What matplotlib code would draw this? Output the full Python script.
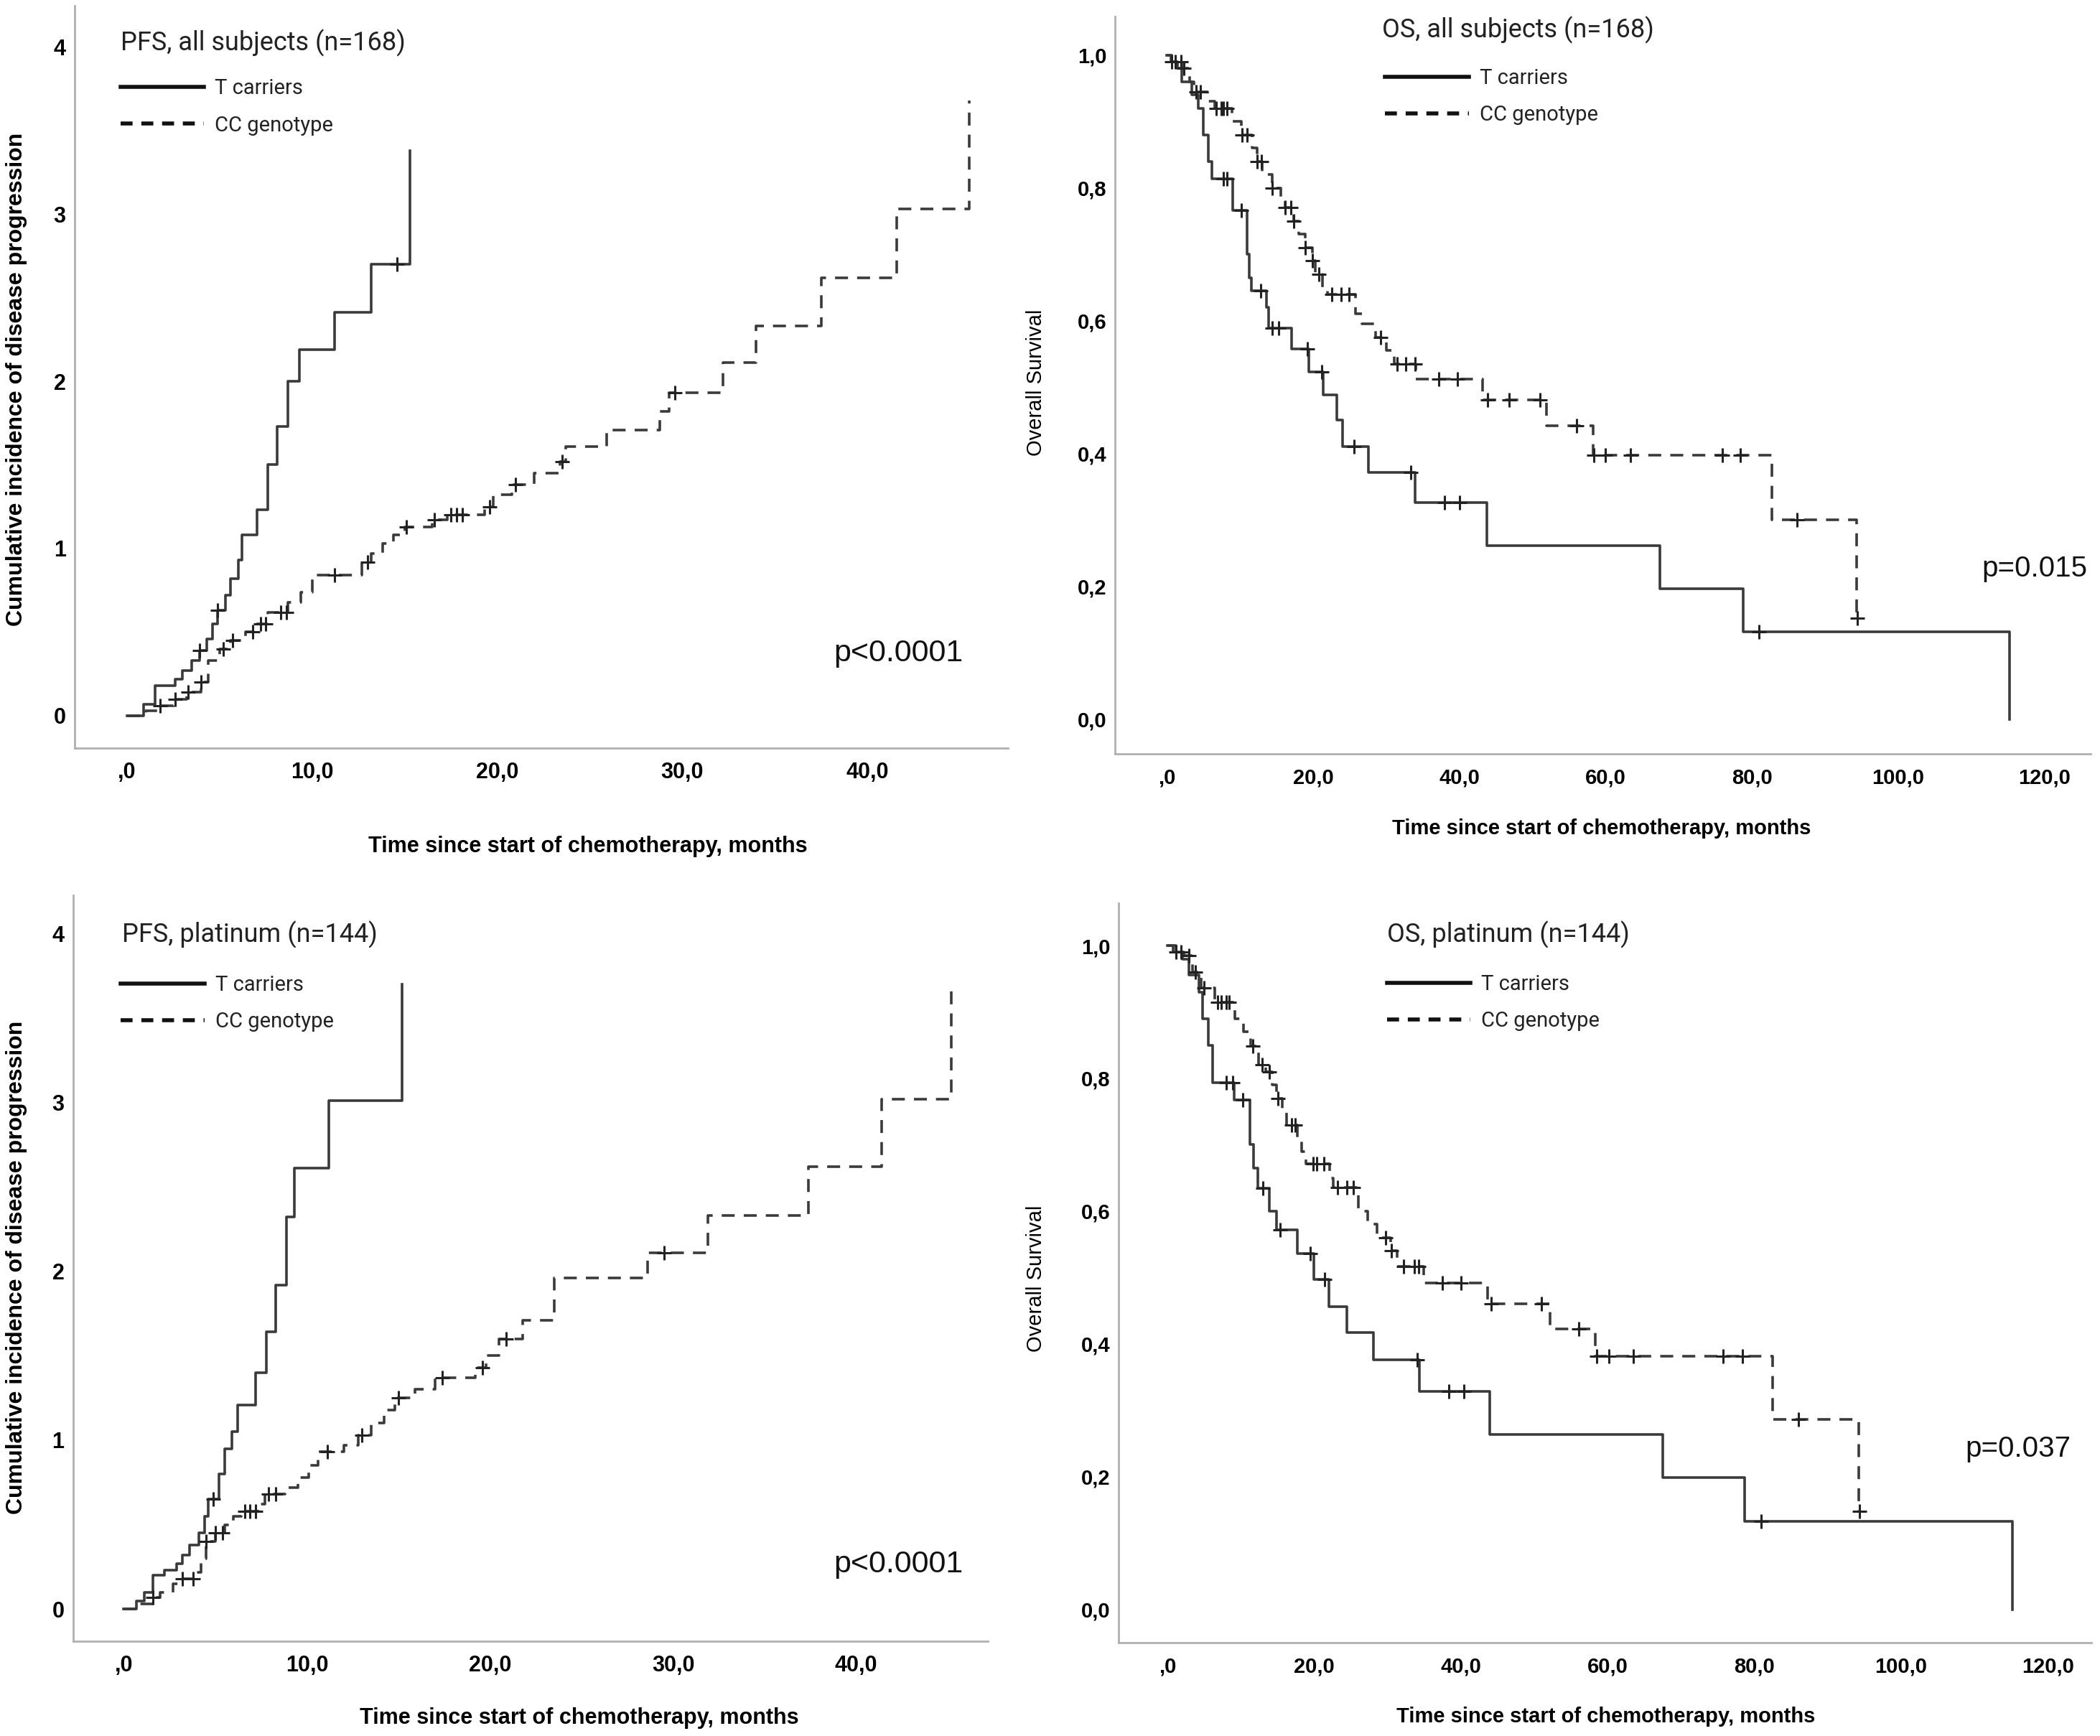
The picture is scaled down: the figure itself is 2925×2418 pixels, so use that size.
import numpy as np
import matplotlib
matplotlib.use("Agg")
import matplotlib.pyplot as plt
from matplotlib.lines import Line2D

# ---------------- data ----------------
# PFS, all subjects (n=168): cumulative incidence of disease progression
pfs_all_t_time = [0, 0.9, 1.5, 2.6, 3.0, 3.5, 3.9, 4.3, 4.6, 4.9, 5.3, 5.6, 6.0, 6.2, 7.0, 7.6, 8.1, 8.7, 9.3, 11.2, 13.2, 15.3]
pfs_all_t_val = [0, 0.07, 0.18, 0.22, 0.27, 0.33, 0.39, 0.46, 0.55, 0.63, 0.72, 0.82, 0.93, 1.08, 1.23, 1.50, 1.73, 2.00, 2.19, 2.41, 2.70, 3.38]
pfs_all_t_cens = [3.9, 4.9, 14.6]
pfs_all_c_time = [0, 1.0, 1.8, 2.5, 3.2, 4.0, 4.4, 5.0, 5.6, 6.4, 7.0, 7.6, 8.7, 9.4, 10.0, 12.7, 13.2, 13.8, 14.4, 15.0,
                  16.5, 17.3, 19.3, 19.8, 20.8, 22.0, 23.4, 23.7, 25.9, 28.8, 29.3, 32.2, 34.0, 37.5, 41.6, 45.5]
pfs_all_c_val = [0, 0.03, 0.06, 0.10, 0.14, 0.20, 0.33, 0.40, 0.45, 0.50, 0.55, 0.62, 0.68, 0.74, 0.84, 0.92, 0.97, 1.03, 1.08, 1.13,
                 1.17, 1.20, 1.25, 1.32, 1.38, 1.45, 1.52, 1.61, 1.71, 1.82, 1.93, 2.11, 2.33, 2.62, 3.03, 3.68]
pfs_all_c_cens = [1.8, 2.6, 3.3, 4.0, 5.2, 5.7, 6.8, 7.2, 7.5, 8.3, 8.6, 11.2, 13.0, 15.1, 16.6, 17.5, 17.8, 18.1, 19.6, 21.0, 23.5, 29.6]

# OS, all subjects (n=168): overall survival
os_all_t_time = [0, 0.7, 1.5, 2.0, 3.4, 4.3, 5.0, 5.7, 6.2, 9.0, 11.0, 11.3, 11.6, 13.6, 13.9, 17.1, 19.4, 21.4, 23.2, 24.0, 27.6, 33.9, 43.8, 67.4, 78.8, 115.2]
os_all_t_val = [1.0, 0.99, 0.98, 0.96, 0.94, 0.92, 0.88, 0.84, 0.814, 0.766, 0.70, 0.665, 0.645, 0.62, 0.589, 0.557, 0.523, 0.488, 0.45, 0.41, 0.372, 0.326, 0.261, 0.196, 0.132, 0.0]
os_all_t_cens = [7.7, 8.2, 10.2, 12.8, 14.4, 15.3, 19.2, 21.2, 25.6, 33.4, 38.0, 40.0, 81.0]
os_all_c_time = [0, 0.6, 2.0, 3.1, 3.7, 5.6, 6.6, 8.9, 10.2, 11.7, 12.3, 13.0, 14.4, 15.6, 16.2, 17.4, 18.0, 18.9, 19.9, 20.3,
                 21.3, 22.0, 25.8, 26.7, 28.5, 30.0, 31.1, 34.0, 43.2, 51.9, 58.3, 82.7, 94.3]
os_all_c_val = [1.0, 0.99, 0.98, 0.96, 0.944, 0.93, 0.92, 0.90, 0.88, 0.86, 0.84, 0.82, 0.80, 0.78, 0.77, 0.75, 0.73, 0.71, 0.69, 0.67,
                0.65, 0.64, 0.61, 0.595, 0.575, 0.555, 0.535, 0.512, 0.481, 0.442, 0.398, 0.30, 0.152]
os_all_c_cens = [0.7, 1.2, 1.9, 2.3, 4.0, 4.6, 6.8, 7.4, 7.7, 8.2, 10.3, 11.0, 12.3, 12.9, 14.4, 16.2, 17.0, 17.4, 18.9, 19.9,
                 20.8, 22.6, 23.8, 24.9, 29.2, 31.5, 32.7, 33.9, 37.2, 39.7, 43.9, 46.8, 51.0, 56.0, 58.4, 60.0, 63.4, 76.0,
                 78.4, 86.2, 94.4]

# PFS, platinum (n=144)
pfs_pt_t_time = [0, 0.7, 1.1, 1.6, 2.2, 2.9, 3.2, 3.6, 4.1, 4.4, 4.6, 5.2, 5.5, 5.9, 6.2, 7.2, 7.8, 8.3, 8.9, 9.3, 11.2, 15.2]
pfs_pt_t_val = [0, 0.05, 0.10, 0.20, 0.23, 0.27, 0.32, 0.38, 0.45, 0.55, 0.65, 0.80, 0.95, 1.05, 1.21, 1.40, 1.64, 1.92, 2.32, 2.61, 3.01, 3.70]
pfs_pt_t_cens = [4.9]
pfs_pt_c_time = [0, 0.9, 1.6, 2.0, 2.7, 3.2, 3.9, 4.2, 4.5, 5.0, 5.5, 6.0, 6.4, 7.3, 7.7, 8.8, 9.5, 10.1, 10.6, 12.0, 12.8,
                 13.5, 14.2, 14.8, 15.9, 17.0, 19.2, 19.8, 20.5, 21.8, 23.5, 28.6, 31.9, 37.4, 41.4, 45.2]
pfs_pt_c_val = [0, 0.03, 0.07, 0.10, 0.15, 0.18, 0.22, 0.30, 0.40, 0.45, 0.50, 0.55, 0.58, 0.62, 0.68, 0.72, 0.78, 0.85, 0.93, 0.97, 1.03,
                1.10, 1.18, 1.25, 1.30, 1.37, 1.43, 1.50, 1.60, 1.71, 1.96, 2.11, 2.33, 2.62, 3.02, 3.70]
pfs_pt_c_cens = [1.6, 3.2, 3.8, 4.5, 5.0, 5.4, 6.6, 6.9, 7.2, 7.9, 8.3, 11.1, 13.0, 15.0, 17.4, 19.6, 20.9, 29.5]

# OS, platinum (n=144)
os_pt_t_time = [0, 1.1, 2.0, 2.9, 4.3, 4.8, 5.5, 6.1, 9.1, 11.2, 11.7, 12.3, 13.9, 14.8, 17.7, 19.9, 22.0, 24.4, 28.1, 34.3, 43.9, 67.5, 78.7, 115.2]
os_pt_t_val = [1.0, 0.99, 0.98, 0.956, 0.93, 0.89, 0.85, 0.793, 0.768, 0.70, 0.665, 0.634, 0.60, 0.572, 0.536, 0.497, 0.456, 0.417, 0.376, 0.328, 0.264, 0.199, 0.133, 0.0]
os_pt_t_cens = [8.0, 8.9, 10.2, 13.0, 15.3, 19.4, 21.4, 34.0, 38.3, 40.4, 80.9]
os_pt_c_time = [0, 0.8, 2.2, 3.4, 4.6, 6.4, 9.2, 10.3, 11.3, 12.4, 13.4, 14.3, 14.8, 15.6, 16.2, 17.7, 18.3, 18.9, 22.1, 22.6,
                26.0, 27.3, 28.5, 30.4, 31.3, 34.9, 43.6, 52.1, 58.3, 82.5, 94.2]
os_pt_c_val = [1.0, 0.99, 0.985, 0.96, 0.936, 0.915, 0.89, 0.87, 0.849, 0.82, 0.81, 0.79, 0.77, 0.75, 0.73, 0.71, 0.69, 0.671, 0.65, 0.636,
               0.60, 0.58, 0.56, 0.54, 0.517, 0.492, 0.46, 0.422, 0.381, 0.286, 0.148]
os_pt_c_cens = [1.1, 1.8, 2.9, 3.8, 5.0, 6.8, 7.3, 8.0, 8.4, 11.6, 12.9, 13.9, 15.0, 16.9, 17.4, 19.8, 20.3, 21.3, 23.2, 24.4,
                25.3, 29.7, 30.5, 32.2, 33.6, 34.2, 37.5, 40.0, 44.1, 51.0, 56.0, 58.5, 60.2, 63.5, 75.7, 78.4, 86.0, 94.3]

# tick labels
pfs_xticks = [0, 10, 20, 30, 40]
pfs_xticklabels = [",0", "10,0", "20,0", "30,0", "40,0"]
pfs_yticks = [0, 1, 2, 3, 4]
pfs_yticklabels = ["0", "1", "2", "3", "4"]
os_xticks = [0, 20, 40, 60, 80, 100, 120]
os_xticklabels = [",0", "20,0", "40,0", "60,0", "80,0", "100,0", "120,0"]
os_yticks = [0.0, 0.2, 0.4, 0.6, 0.8, 1.0]
os_yticklabels = ["0,0", "0,2", "0,4", "0,6", "0,8", "1,0"]

series_labels = ["T carriers", "CC genotype"]
xlabel_text = "Time since start of chemotherapy, months"
pfs_ylabel = "Cumulative incidence of disease progression"
os_ylabel = "Overall Survival"

# ---------------- drawing ----------------
W, H, DPI = 2925, 2418, 100
fig = plt.figure(figsize=(W / DPI, H / DPI), dpi=DPI)
fig.patch.set_facecolor("white")

SANS = ["Liberation Sans", "DejaVu Sans"]
THIN = ["Roboto", "Liberation Sans", "DejaVu Sans"]
LINE_COL = "#3a3a3a"
DASH = (0, (5, 3.5))


def step_at(times, vals, t):
    times = np.asarray(times, dtype=float)
    vals = np.asarray(vals, dtype=float)
    idx = np.searchsorted(times, np.asarray(t, dtype=float), side="right") - 1
    return vals[np.clip(idx, 0, len(vals) - 1)]


def panel(rect, xlim, ylim, xt, xtl, yt, ytl, t_time, t_val, t_cens, c_time, c_val, c_cens,
          title, title_xy, leg_xy, pval, p_xy, p_size, xlab_xy, xlab_size, tick_size,
          ylab, ylab_xy, ylab_size, ylab_weight, xpad, ypad):
    ax = fig.add_axes(rect)
    ax.set_xlim(*xlim)
    ax.set_ylim(*ylim)
    for s in ("top", "right"):
        ax.spines[s].set_visible(False)
    for s in ("left", "bottom"):
        ax.spines[s].set_color("#b0b0b0")
        ax.spines[s].set_linewidth(2.0)

    ax.step(t_time, t_val, where="post", color=LINE_COL, lw=2.6)
    ax.step(c_time, c_val, where="post", color=LINE_COL, lw=2.6, linestyle=DASH)
    ax.plot(t_cens, step_at(t_time, t_val, t_cens), linestyle="none", marker="+",
            ms=14, mew=2.2, color="#222222")
    ax.plot(c_cens, step_at(c_time, c_val, c_cens), linestyle="none", marker="+",
            ms=14, mew=2.2, color="#222222")

    ax.set_xticks(xt, labels=xtl, fontsize=tick_size, fontfamily=SANS, fontweight="bold")
    ax.set_yticks(yt, labels=ytl, fontsize=tick_size, fontfamily=SANS, fontweight="bold")
    ax.tick_params(axis="x", length=0, pad=xpad)
    ax.tick_params(axis="y", length=0, pad=ypad)

    ax.text(title_xy[0], title_xy[1], title, transform=ax.transAxes, ha="left", va="center",
            fontsize=26, family=THIN, color="#222222")

    handles = [Line2D([], [], color="#111111", lw=4.0),
               Line2D([], [], color="#111111", lw=4.0, linestyle=(0, (3.0, 2.2)))]
    ax.legend(handles, series_labels, loc="upper left", bbox_to_anchor=leg_xy, frameon=False,
              prop={"family": THIN, "size": 21}, labelcolor="#222222", handlelength=4.0,
              handletextpad=0.5, labelspacing=0.8, borderpad=0, borderaxespad=0)

    ax.text(p_xy[0], p_xy[1], pval, transform=ax.transAxes, ha="right", va="center",
            fontsize=p_size, family=SANS, color="#111111")

    ax.set_xlabel(xlabel_text, fontsize=xlab_size, family=SANS, fontweight="bold")
    ax.xaxis.set_label_coords(*xlab_xy)
    ax.xaxis.label.set_va("center")
    ax.set_ylabel(ylab, fontsize=ylab_size, family=SANS, fontweight=ylab_weight)
    ax.yaxis.set_label_coords(*ylab_xy)
    ax.yaxis.label.set_va("center")
    return ax


panel([0.0356, 0.5691, 0.4444, 0.4276], (-2.83, 47.6), (-0.193, 4.245),
      pfs_xticks, pfs_xticklabels, pfs_yticks, pfs_yticklabels,
      pfs_all_t_time, pfs_all_t_val, pfs_all_t_cens, pfs_all_c_time, pfs_all_c_val, pfs_all_c_cens,
      "PFS, all subjects (n=168)", (0.049, 0.95), (0.049, 0.902), "p<0.0001", (0.952, 0.128), 31,
      (0.55, -0.133), 22, 22, pfs_ylabel, (-0.0623, 0.497), 23, "bold", 14, 9)

panel([0.5309, 0.5658, 0.4646, 0.4247], (-7.1, 126.3), (-0.052, 1.058),
      os_xticks, os_xticklabels, os_yticks, os_yticklabels,
      os_all_t_time, os_all_t_val, os_all_t_cens, os_all_c_time, os_all_c_val, os_all_c_cens,
      "OS, all subjects (n=168)", (0.274, 0.982), (0.277, 0.930), "p=0.015", (0.997, 0.251), 29,
      (0.499, -0.101), 21, 21, os_ylabel, (-0.081, 0.504), 21, "normal", 14, 8)

panel([0.0349, 0.0546, 0.4356, 0.4297], (-2.76, 47.2), (-0.19, 4.226),
      pfs_xticks, pfs_xticklabels, pfs_yticks, pfs_yticklabels,
      pfs_pt_t_time, pfs_pt_t_val, pfs_pt_t_cens, pfs_pt_c_time, pfs_pt_c_val, pfs_pt_c_cens,
      "PFS, platinum (n=144)", (0.053, 0.947), (0.052, 0.893), "p<0.0001", (0.9725, 0.103), 31,
      (0.553, -0.103), 22, 22, pfs_ylabel, (-0.062, 0.501), 23, "bold", 14, 9)

panel([0.5326, 0.0538, 0.4632, 0.4260], (-6.7, 125.9), (-0.050, 1.064),
      os_xticks, os_xticklabels, os_yticks, os_yticklabels,
      os_pt_t_time, os_pt_t_val, os_pt_t_cens, os_pt_c_time, os_pt_c_val, os_pt_c_cens,
      "OS, platinum (n=144)", (0.276, 0.957), (0.276, 0.904), "p=0.037", (0.979, 0.262), 29,
      (0.501, -0.10), 21, 21, os_ylabel, (-0.085, 0.492), 21, "normal", 14, 8)

fig.savefig("out.png", dpi=DPI, facecolor="white")
